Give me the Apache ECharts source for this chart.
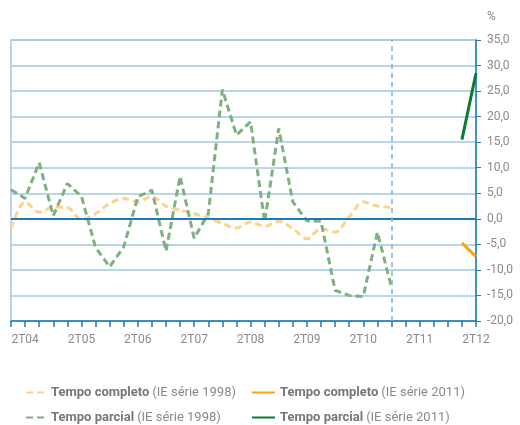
<!DOCTYPE html>
<html>
<head>
<meta charset="utf-8">
<script src="https://cdn.jsdelivr.net/npm/echarts@6/dist/echarts.min.js"></script>
<style>
  html, body { margin: 0; padding: 0; background: #fff; }
  #chart { width: 520px; height: 425px; }
</style>
</head>
<body>
<div id="chart"></div>
<script>
const categories = [
  '1T04', '2T04', '3T04', '4T04', '1T05', '2T05', '3T05', '4T05',
  '1T06', '2T06', '3T06', '4T06', '1T07', '2T07', '3T07', '4T07',
  '1T08', '2T08', '3T08', '4T08', '1T09', '2T09', '3T09', '4T09',
  '1T10', '2T10', '3T10', '4T10', '1T11', '2T11', '3T11', '4T11',
  '1T12', '2T12'
]

const completo1998 = [
  -1.9, 3.3, 1.3, 2.3, 2.2, -0.2, 1.0, 3.0, 4.0, 3.3, 4.4, 2.5, 1.7, 1.0,
  0.2, -0.9, -1.8, -0.6, -1.5, -0.5, -1.9, -3.9, -1.9, -2.6, 0.4, 3.3, 2.5, 2.2,
  null, null, null, null, null, null
]
const parcial1998 = [
  5.7, 4.0, 11.0, 0.6, 6.9, 4.4, -5.6, -9.4, -5.5, 4.3, 5.6, -6.3, 8.3, -3.8,
  1.0, 25.3, 16.4, 19.0, -0.6, 17.7, 3.3, -0.4, -0.5, -14.0, -15.0, -15.2, -2.6, -13.4,
  null, null, null, null, null, null
]
const completo2011 = [
  null, null, null, null, null, null, null, null, null, null, null, null, null, null,
  null, null, null, null, null, null, null, null, null, null, null, null, null, null,
  null, null, null, null, -4.7, -7.4
]
const parcial2011 = [
  null, null, null, null, null, null, null, null, null, null, null, null, null, null,
  null, null, null, null, null, null, null, null, null, null, null, null, null, null,
  null, null, null, null, 15.5, 28.5
]

const gridBlue = '#a3c7e6'
const axisBlue = '#1d79b8'
const grey = '#8a8a8a'

const chart = echarts.init(document.getElementById('chart'))

const legendText = name => {
  const i = name.indexOf(' (')
  return '{b|' + name.slice(0, i) + '} {r|' + name.slice(i + 1) + '}'
}
const legendRich = {
  b: { fontFamily: 'Roboto', fontSize: 13, fontWeight: 'bold', color: '#777' },
  r: { fontFamily: 'Roboto', fontSize: 13, color: grey },
}
// one legend per entry so the 2x2 layout is exact
const legendAt = (name, left, top, w) => ({
  left, top, itemWidth: w, itemHeight: 12, itemGap: 0,
  itemStyle: { opacity: 0 },
  data: [name], formatter: legendText, textStyle: { rich: legendRich },
})

chart.setOption({
  animation: false,
  textStyle: { fontFamily: 'Roboto' },
  grid: { left: 11, right: 44, top: 40, bottom: 104, show: true, borderColor: gridBlue, borderWidth: 1.5 },
  graphic: [{ type: 'text', left: 487, top: 11, style: { text: '%', fill: grey, font: '12px Roboto' } }],
  legend: [
    legendAt('Tempo completo (IE série 1998)', 20, 381, 20),
    legendAt('Tempo parcial (IE série 1998)', 20, 406, 20),
    legendAt('Tempo completo (IE série 2011)', 246, 381, 23),
    legendAt('Tempo parcial (IE série 2011)', 246, 406, 23),
  ],
  xAxis: {
    type: 'category',
    data: categories,
    boundaryGap: false,
    axisLine: { onZero: false, lineStyle: { color: axisBlue, width: 1.5 } },
    axisTick: { show: true, interval: 0, length: 6, lineStyle: { color: axisBlue, width: 1.5 } },
    axisLabel: { interval: i => i % 4 === 1, color: grey, fontSize: 12, margin: 13 },
    splitLine: { show: false },
  },
  yAxis: {
    type: 'value',
    position: 'right',
    min: -20, max: 35, interval: 5,
    axisLine: { show: true, lineStyle: { color: axisBlue, width: 1.5 } },
    axisTick: { show: true, length: 5, lineStyle: { color: axisBlue } },
    axisLabel: { color: grey, fontSize: 12, margin: 11, formatter: v => v.toFixed(1).replace('.', ',') },
    splitLine: { lineStyle: { color: gridBlue, width: 1.5 } },
  },
  series: [
    {
      name: 'Tempo completo (IE série 1998)', type: 'line', data: completo1998,
      symbol: 'none', smooth: 0.3, color: '#fdd38c',
      lineStyle: { width: 3, type: [7, 4], color: '#fdd38c' },
      markLine: {
        silent: true, symbol: 'none', label: { show: false },
        lineStyle: { color: axisBlue, width: 2, type: 'solid' },
        data: [{ yAxis: 0 }],
      },
    },
    {
      name: 'Tempo parcial (IE série 1998)', type: 'line', data: parcial1998,
      symbol: 'none', color: '#7fb07f',
      lineStyle: { width: 3, type: [7, 4], color: '#7fb07f' },
      markLine: {
        silent: true, symbol: 'none', label: { show: false },
        lineStyle: { color: '#7db4de', width: 1.5, type: [5, 4] },
        data: [{ xAxis: '4T10' }],
      },
    },
    {
      name: 'Tempo completo (IE série 2011)', type: 'line', data: completo2011,
      symbol: 'none', color: '#f6a800',
      lineStyle: { width: 3, color: '#f6a800' },
    },
    {
      name: 'Tempo parcial (IE série 2011)', type: 'line', data: parcial2011,
      symbol: 'none', color: '#0b7a34',
      lineStyle: { width: 3, color: '#0b7a34' },
    },
  ],
})
</script>
</body>
</html>
